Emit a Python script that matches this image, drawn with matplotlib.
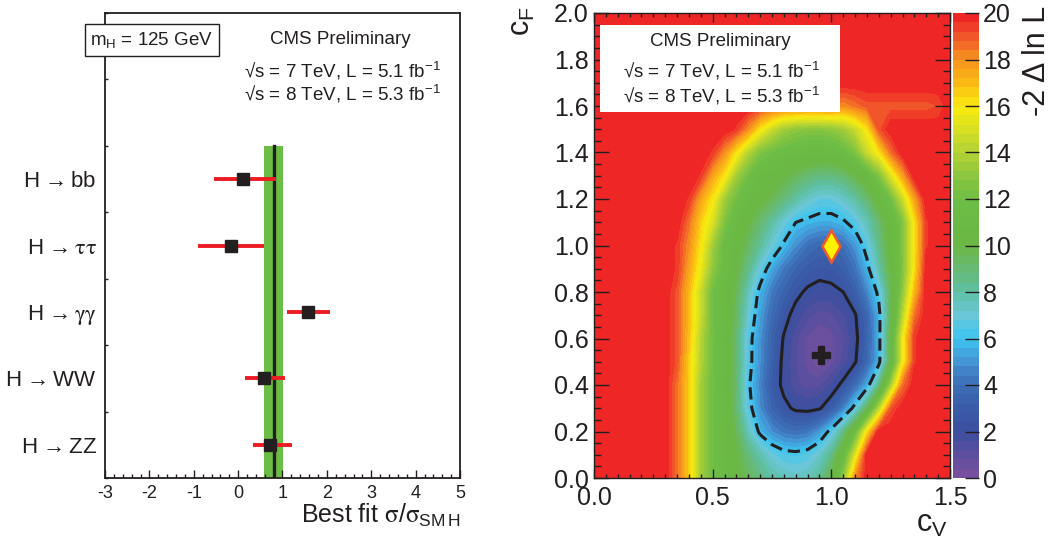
import numpy as np
import matplotlib
matplotlib.use('Agg')
import matplotlib.pyplot as plt
from matplotlib.colors import LinearSegmentedColormap, ListedColormap
from matplotlib.patches import Rectangle

plt.rcParams['font.family'] = ['Liberation Sans', 'DejaVu Sans']
plt.rcParams['mathtext.fontset'] = 'stix'
plt.rcParams['mathtext.default'] = 'regular'
plt.rcParams['axes.unicode_minus'] = False

# ---- left panel: signal strength per channel (top to bottom) ----
channels = [r'H$\,\rightarrow$bb', r'H$\,\rightarrow\mathrm{\tau\tau}$',
            r'H$\,\rightarrow\mathrm{\gamma\gamma}$', r'H$\,\rightarrow$WW', r'H$\,\rightarrow$ZZ']
mu = [0.12, -0.16, 1.57, 0.59, 0.72]
mu_lo = [0.66, 0.74, 0.46, 0.43, 0.38]
mu_hi = [0.73, 0.75, 0.50, 0.46, 0.50]
mu_comb = 0.80
comb_lo = 0.58
comb_hi = 1.02

# ---- right panel: -2 Delta ln L scan in (cV, cF) ----
cv = np.linspace(0, 1.5, 31)
cf = np.linspace(0, 2.0, 21)
nll = [
    [20]*6 + [20, 18.5, 16.5, 13.5, 12, 11, 10.3, 9.5, 8.7, 8, 7.6, 7.4, 7.6, 8.3, 10, 13, 18, 20] + [20]*7,
    [20]*6 + [20, 18.5, 16.5, 13.5, 12, 11, 10, 8.8, 7.8, 6.9, 6.4, 6.3, 6.5, 7.2, 8.5, 11, 15, 20] + [20]*7,
    [20]*6 + [20, 18.5, 16.5, 13.5, 12, 11, 9.5, 7.5, 5.7, 4.8, 4.2, 4.0, 4.2, 5.0, 6.4, 8.5, 11.5, 16] + [20]*7,
    [20]*6 + [20, 18.5, 16.5, 13.5, 12, 11, 9, 6.5, 4.8, 3.5, 2.6, 2.1, 2.0, 2.2, 3.0, 4.5, 6.5, 9.5, 14, 19] + [20]*5,
    [20]*6 + [20, 18.5, 16.5, 13.5, 12, 10.8, 9, 6.2, 4.6, 3.0, 2.0, 1.3, 1.0, 1.1, 1.7, 2.6, 3.8, 5.4, 8.5, 13.5, 18.5] + [20]*4,
    [20]*6 + [20, 19, 16.5, 14, 12, 11, 9, 6.5, 4.8, 3.3, 2.0, 1.2, 0.6, 0.1, 0.6, 1.3, 2.2, 3.6, 5.6, 10, 15.5, 19.5, 20] + [20]*2,
    [20]*6 + [20, 19, 16.8, 14, 12, 10.8, 9, 6.5, 4.9, 3.4, 2.2, 1.3, 0.7, 0.4, 0.6, 1.1, 2.0, 3.4, 5.6, 10, 15.5, 19.5, 20] + [20]*2,
    [20]*6 + [20, 19, 17, 14.5, 12, 11, 9.3, 7, 5.2, 3.8, 2.7, 1.9, 1.3, 1.0, 1.1, 1.5, 2.2, 3.6, 5.6, 9.5, 14, 18.5, 20] + [20]*2,
    [20]*6 + [20, 19, 17, 14.5, 12, 11, 9.5, 7.5, 5.6, 4.3, 3.4, 2.6, 2.1, 1.9, 2.0, 2.3, 3.2, 4.6, 6.3, 9.5, 13, 17, 20] + [20]*2,
    [20]*6 + [20, 19.5, 17.5, 15.5, 13, 11.5, 10, 8.5, 6.8, 5.3, 4.3, 3.5, 3.0, 2.7, 2.8, 3.2, 4.1, 5.6, 7.8, 10, 12.5, 16, 20] + [20]*2,
    [20]*6 + [20, 19.5, 18, 16, 13.5, 11.5, 10.5, 9.3, 8.2, 7, 5.8, 4.8, 4, 3.6, 3.6, 4, 5, 6.5, 8.5, 10.5, 12.5, 16, 19.5] + [20]*2,
    [20]*6 + [20, 20, 18.5, 16.5, 15, 12.5, 11, 10, 9, 8, 7, 6, 5.7, 5.5, 5.5, 5.8, 6.5, 7.6, 9, 10.5, 12.5, 16, 19.5] + [20]*2,
    [20]*6 + [20, 20, 19.5, 17.5, 16, 13.5, 12, 11, 10.3, 9.6, 8.8, 8, 7.3, 6.8, 6.8, 7.3, 8, 9, 10.5, 12, 14.5, 17.5, 20] + [20]*2,
    [20]*6 + [20, 20, 20, 19.5, 17.5, 16, 13.5, 12, 11, 10.5, 10, 9.5, 9, 8.7, 8.7, 9, 9.8, 10.8, 12.5, 15, 17.5, 20, 20] + [20]*2,
    [20]*10 + [19.5, 18, 16, 14, 12.5, 12, 11.5, 11.2, 11, 11, 11, 11.5, 12.5, 14.5, 16, 18.5] + [20]*5,
    [20]*12 + [19.5, 18, 16, 14.5, 13.5, 13, 12.8, 12.8, 13, 13.5, 14.5, 16, 19] + [20]*6,
    [20]*14 + [19.5, 19, 18.5, 18.5, 18.5, 18.5, 18.5, 18, 18.5, 19, 19, 19, 19, 19, 19, 19.2] + [20],
    [20]*31,
    [20]*31,
    [20]*31,
    [20]*31,
]
best_fit = (0.955, 0.53)
sm_point = (1.0, 1.0)

# ROOT-like rainbow palette
pal_vals = [0, 1, 2, 3, 4, 5, 6, 7, 8, 9, 10, 12, 13, 14, 15, 16, 17, 18, 19, 20]
pal_cols = ['#7c4f9f', '#5b4f9f', '#3b4f9e', '#3a5ba8', '#3d6eb6', '#4595d3', '#3cc4f0',
            '#6ac7d8', '#5ec0a3', '#66ba74', '#6bb845', '#6cbd45', '#8cc63f', '#b3d234',
            '#d7df23', '#f9ec0f', '#fbba16', '#f7941d', '#f1592a', '#ed1c24']
smooth = LinearSegmentedColormap.from_list('root', list(zip(np.array(pal_vals) / 20, pal_cols)))
cmap = ListedColormap(smooth(np.linspace(0.01, 0.99, 50)))

W, H = 1056, 545


def fx(px):
    return px / W


def fy(py):
    return 1 - py / H


dark = '#231f20'
fig = plt.figure(figsize=(W / 100, H / 100), dpi=100)

# ---------------- left panel ----------------
ax1 = fig.add_axes([fx(105), fy(478), 355 / W, 465 / H])
ypos = [4.5 - i for i in range(len(channels))]
ax1.fill_betweenx([0, 5], comb_lo, comb_hi, color='#6cbd45', lw=0, zorder=1)
ax1.plot([mu_comb, mu_comb], [0, 5], color=dark, lw=2.4, zorder=2)
ax1.errorbar(mu, ypos, xerr=[mu_lo, mu_hi], fmt='none', ecolor='#ed1c24',
             elinewidth=2.8, capsize=0, zorder=3)
ax1.plot(mu, ypos, 's', ms=9, color=dark, zorder=4)
ax1.set_xlim(-3, 5)
ax1.set_ylim(0, 7)
ax1.set_xticks(range(-3, 6))
ax1.set_xticks(np.arange(-3, 5.01, 0.2), minor=True)
ax1.set_yticks(range(0, 8))
ax1.set_yticklabels([])
ax1.set_yticks(ypos, labels=channels, minor=True)
ax1.tick_params(axis='x', which='major', direction='in', length=6, width=1,
                labelsize=13, pad=5, colors=dark, top=False)
ax1.tick_params(axis='x', which='minor', direction='in', length=3, width=1,
                colors=dark, top=False)
ax1.tick_params(axis='y', which='major', direction='in', length=2.5, width=1, colors=dark)
ax1.tick_params(axis='y', which='minor', length=0, labelsize=16, pad=6, colors=dark)
for s in ax1.spines.values():
    s.set_linewidth(1.3)
    s.set_color(dark)

fig.text(fx(460), fy(523), r'Best fit $\mathrm{\sigma}/\mathrm{\sigma}_{SM\,H}$', ha='right',
         va='baseline', fontsize=18, color=dark)
fig.text(fx(152), fy(40), r'm$_H$ = 125 GeV', ha='center', va='center', fontsize=13.5,
         color=dark, bbox=dict(boxstyle='square,pad=0.3', fc='white', ec=dark, lw=1))
fig.text(fx(340), fy(39), 'CMS Preliminary', ha='center', va='center', fontsize=13.5, color=dark)
fig.text(fx(342), fy(71), '\u221as = 7 TeV, L = 5.1 fb$^{-1}$', ha='center', va='center',
         fontsize=13.5, color=dark)
fig.text(fx(342), fy(94), '\u221as = 8 TeV, L = 5.3 fb$^{-1}$', ha='center', va='center',
         fontsize=13.5, color=dark)

# ---------------- right panel ----------------
ax2 = fig.add_axes([fx(594), fy(478), 356 / W, 465 / H])
Z = np.array(nll)
levels = np.linspace(0, 20, 51)
cs = ax2.contourf(cv, cf, Z, levels=levels, cmap=cmap, vmin=0, vmax=20)
ax2.contour(cv, cf, Z, levels=[2.30], colors=dark, linewidths=2.2)
c2 = ax2.contour(cv, cf, Z, levels=[5.99], colors=dark, linewidths=2.2)
c2.set_linestyle((0, (4, 2)))
ax2.plot(*best_fit, marker='P', ms=13, color=dark, mec=dark, zorder=6)
ax2.plot(*sm_point, marker='d', ms=16, mfc='#fff200', mec='#f1592a', mew=1.8, zorder=6)
ax2.set_xlim(0, 1.5)
ax2.set_ylim(0, 2)
ax2.set_xticks([0, 0.5, 1.0, 1.5], labels=['0.0', '0.5', '1.0', '1.5'])
ax2.set_xticks(np.arange(0, 1.501, 0.05), minor=True)
yt = np.arange(0, 2.01, 0.2)
ax2.set_yticks(yt, labels=['%.1f' % v for v in yt])
ax2.set_yticks(np.arange(0, 2.001, 0.05), minor=True)
ax2.tick_params(axis='x', which='major', direction='in', length=6.5, width=1, top=True,
                labelsize=18, pad=6, colors=dark)
ax2.tick_params(axis='x', which='minor', direction='in', length=3.2, width=1, top=True, colors=dark)
ax2.tick_params(axis='y', which='major', direction='in', length=10.8, width=1, right=True,
                labelsize=18, pad=4, colors=dark)
ax2.tick_params(axis='y', which='minor', direction='in', length=5, width=1, right=True, colors=dark)
for s in ax2.spines.values():
    s.set_linewidth(1)
    s.set_color(dark)
    s.set_zorder(7)

ax2.add_patch(Rectangle((0.017, 0.787), 0.674, 0.187, transform=ax2.transAxes,
                        fc='white', ec='none', zorder=5))
fig.text(fx(720), fy(41), 'CMS Preliminary', ha='center', va='center', fontsize=13.5, color=dark)
fig.text(fx(721), fy(71), '\u221as = 7 TeV, L = 5.1 fb$^{-1}$', ha='center', va='center',
         fontsize=13.5, color=dark)
fig.text(fx(721), fy(96), '\u221as = 8 TeV, L = 5.3 fb$^{-1}$', ha='center', va='center',
         fontsize=13.5, color=dark)

fig.text(fx(948), fy(532), r'c$_V$', ha='right', va='baseline', fontsize=22, color=dark)
fig.text(fx(522), fy(6), r'c$_F$', ha='center', va='top', rotation=90, fontsize=22, color=dark)

cax = fig.add_axes([fx(953), fy(478), 26 / W, 465 / H])
cb = fig.colorbar(cs, cax=cax, ticks=range(0, 21, 2))
cb.outline.set_visible(False)
cb.minorticks_off()
cax.set_yticklabels([str(t) for t in range(0, 21, 2)])
cax.tick_params(direction='in', length=10, width=1, labelsize=18, pad=3, colors=dark)
fig.text(fx(1037), fy(6), '-2 \u0394 ln L', ha='center', va='top', rotation=90,
         fontsize=22, color=dark)

fig.savefig('out.png', dpi=100)
